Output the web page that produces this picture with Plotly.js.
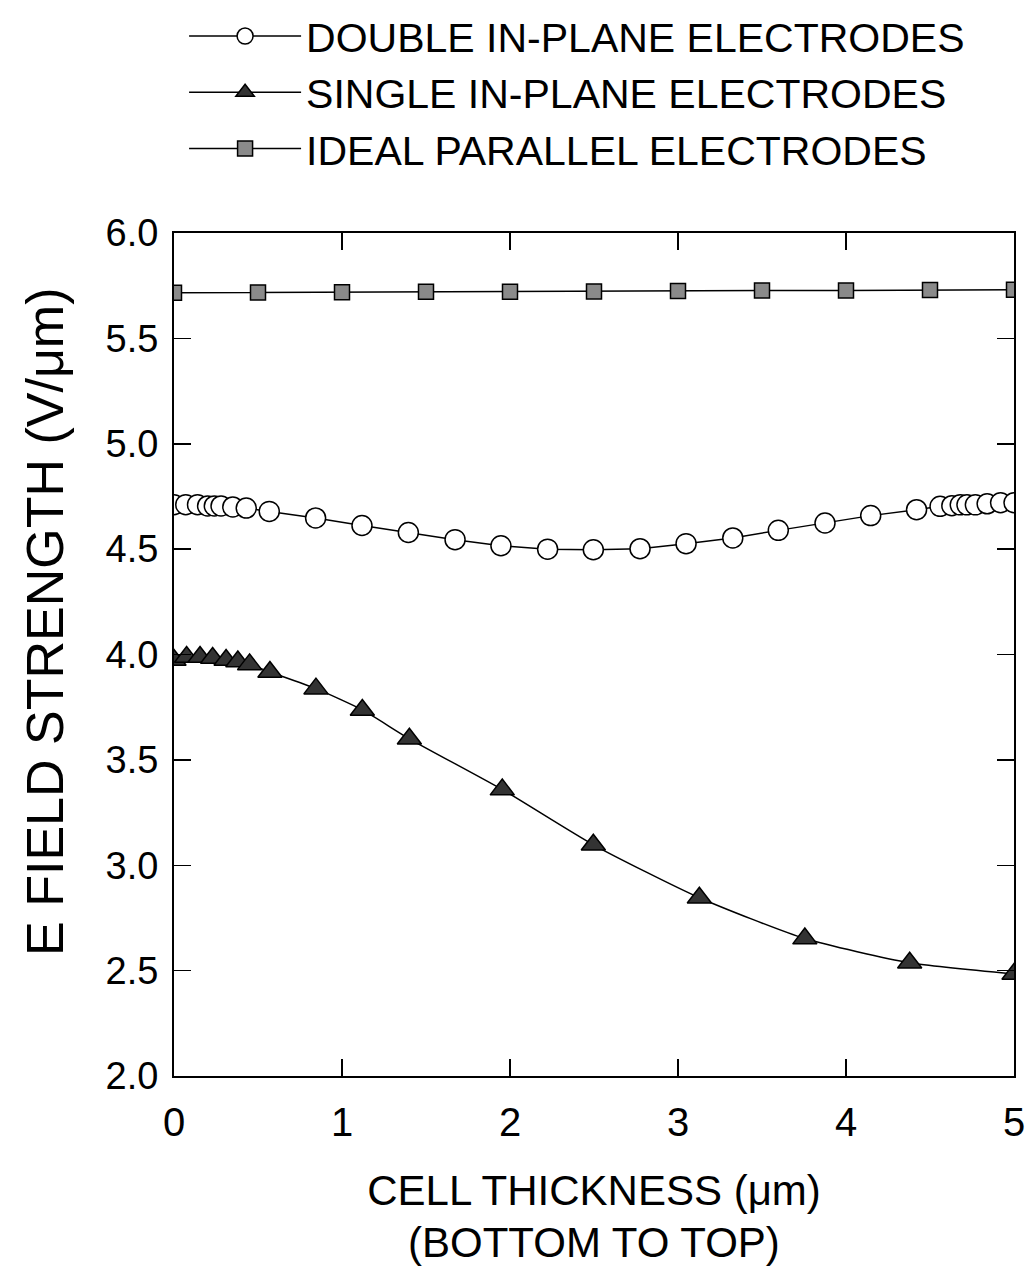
<!DOCTYPE html>
<html>
<head>
<meta charset="utf-8">
<script src="https://cdn.plot.ly/plotly-3.0.1.min.js"></script>
<style>html,body{margin:0;padding:0;background:#fff;}#chart{width:1033px;height:1269px;}</style>
</head>
<body>
<div id="chart"></div>
<script>
// Double in-plane electrodes (open circles)
const doubleX = [0, 0.07, 0.14, 0.2, 0.24, 0.28, 0.35, 0.43, 0.567, 0.843, 1.119, 1.395, 1.673, 1.946, 2.224, 2.496, 2.774, 3.048, 3.326, 3.597, 3.875, 4.147, 4.42, 4.56, 4.63, 4.68, 4.72, 4.77, 4.84, 4.92, 5.0];
const doubleY = [4.711, 4.711, 4.711, 4.705, 4.705, 4.705, 4.7, 4.695, 4.679, 4.648, 4.612, 4.579, 4.545, 4.516, 4.50, 4.497, 4.502, 4.526, 4.553, 4.589, 4.624, 4.659, 4.687, 4.703, 4.706, 4.71, 4.71, 4.71, 4.715, 4.72, 4.72];
// Single in-plane electrodes (filled triangles)
const singleX = [0, 0.075, 0.155, 0.23, 0.31, 0.38, 0.45, 0.571, 0.845, 1.121, 1.401, 1.954, 2.496, 3.127, 3.755, 4.379, 5.0];
const singleY = [3.974, 3.988, 3.988, 3.983, 3.974, 3.967, 3.953, 3.917, 3.838, 3.737, 3.60, 3.359, 3.097, 2.846, 2.652, 2.537, 2.484];
// Ideal parallel electrodes (squares)
const idealX = [0, 0.5, 1, 1.5, 2, 2.5, 3, 3.5, 4, 4.5, 5];
const idealY = [5.716, 5.718, 5.719, 5.721, 5.721, 5.723, 5.725, 5.727, 5.727, 5.729, 5.731];

const names = ['DOUBLE IN-PLANE ELECTRODES', 'SINGLE IN-PLANE ELECTRODES', 'IDEAL PARALLEL ELECTRODES'];
const xTickVals = [0, 1, 2, 3, 4, 5];
const yTickVals = [2.0, 2.5, 3.0, 3.5, 4.0, 4.5, 5.0, 5.5, 6.0];
const xTitle = 'CELL THICKNESS (μm)';
const xSubTitle = '(BOTTOM TO TOP)';
const yTitle = 'E FIELD STRENGTH (V/μm)';

const FONT = '"Liberation Sans", Arial, Helvetica, sans-serif';

const traces = [
  {x: doubleX, y: doubleY, name: names[0], type: 'scatter', mode: 'lines+markers',
   line: {color: '#000', width: 1.5},
   marker: {symbol: 'circle', size: 20, color: '#fff', line: {color: '#000', width: 1.5}}},
  {x: singleX, y: singleY, name: names[1], type: 'scatter', mode: 'lines+markers',
   line: {color: '#000', width: 1.5, shape: 'spline', smoothing: 0.6},
   marker: {symbol: 'triangle-up', size: 21, color: '#333', line: {color: '#000', width: 1.5}}},
  {x: idealX, y: idealY, name: names[2], type: 'scatter', mode: 'lines+markers',
   line: {color: '#000', width: 1.5},
   marker: {symbol: 'square', size: 15, color: '#8a8a8a', line: {color: '#000', width: 1.5}}}
];

const axisCommon = {
  showline: true, linecolor: '#000', linewidth: 2, mirror: 'ticks',
  ticks: 'inside', ticklen: 17, tickwidth: 1.5, tickcolor: '#000',
  showgrid: false, zeroline: false,
  tickfont: {family: FONT, size: 38, color: '#000'}
};

const layout = {
  width: 1033, height: 1269,
  margin: {l: 174, r: 19, t: 233, b: 193, autoexpand: false},
  paper_bgcolor: '#fff', plot_bgcolor: '#fff',
  font: {family: FONT, color: '#000'},
  showlegend: true,
  legend: {
    x: 0.012, y: 1.273, xanchor: 'left', yanchor: 'top',
    font: {family: FONT, size: 41, color: '#000'},
    itemwidth: 112, bgcolor: 'rgba(0,0,0,0)', tracegroupgap: 0
  },
  xaxis: Object.assign({}, axisCommon, {
    range: [0, 5], tickvals: xTickVals, ticktext: xTickVals.map(String),
    ticklabelstandoff: 10,
    tickfont: {family: FONT, size: 40, color: '#000'},
    title: {text: xTitle, font: {family: FONT, size: 42, color: '#000'}, standoff: 33}
  }),
  yaxis: Object.assign({}, axisCommon, {
    range: [2, 6], tickvals: yTickVals, ticktext: yTickVals.map(v => v.toFixed(1)),
    ticklabelstandoff: 6
  }),
  annotations: [
    {text: xSubTitle, xref: 'paper', yref: 'paper', x: 0.5, y: -0.197,
     xanchor: 'center', yanchor: 'middle', showarrow: false,
     font: {family: FONT, size: 42, color: '#000'}},
    {text: yTitle, xref: 'paper', yref: 'paper', x: -0.1536, y: 0.5386,
     xanchor: 'center', yanchor: 'middle', textangle: -90, showarrow: false,
     font: {family: FONT, size: 52, color: '#000'}}
  ]
};

Plotly.newPlot('chart', traces, layout, {displayModeBar: false, staticPlot: true});
</script>
</body>
</html>
